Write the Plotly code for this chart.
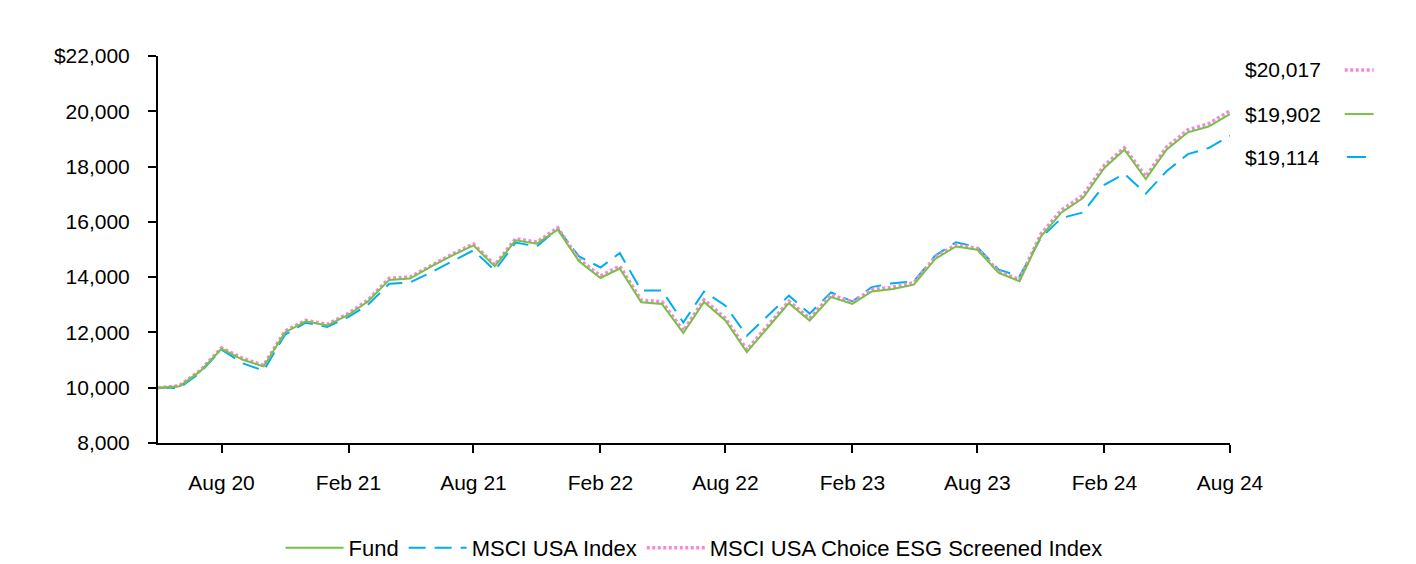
import pandas as pd
import plotly.graph_objects as go

# monthly growth of $10,000
months = pd.date_range('2020-05-01', '2024-08-01', freq='MS')

fund = [10000, 10050, 10590, 11410, 11010, 10770, 12000, 12400,
        12250, 12640, 13120, 13900, 13950, 14390, 14780, 15150, 14390, 15330, 15210, 15720,
        14570, 13970, 14310, 13090, 13030, 11980, 13100, 12430, 11290, 12160, 13060, 12430,
        13280, 13030, 13480, 13570, 13730, 14660, 15110, 14990, 14150, 13850, 15470, 16340,
        16860, 17950, 18610, 17550, 18610, 19240, 19450, 19902]

msci_usa = [10000, 9990, 10540, 11380, 10880, 10620, 11920, 12350,
            12200, 12560, 13000, 13760, 13810, 14170, 14570, 14970, 14240, 15250, 15110, 15750,
            14750, 14350, 14870, 13520, 13520, 12360, 13480, 12970, 11880, 12580, 13330, 12680,
            13450, 13120, 13640, 13780, 13850, 14780, 15260, 15090, 14270, 14030, 15420, 16140,
            16340, 17340, 17740, 17020, 17830, 18450, 18670, 19114]

msci_esg = [10000, 10070, 10620, 11440, 11060, 10810, 12050, 12440,
            12290, 12690, 13170, 13960, 14000, 14440, 14830, 15200, 14440, 15390, 15270, 15790,
            14640, 14050, 14400, 13170, 13110, 12060, 13180, 12510, 11370, 12240, 13130, 12510,
            13360, 13100, 13550, 13640, 13800, 14730, 15170, 15040, 14200, 13910, 15560, 16430,
            16960, 18050, 18680, 17640, 18700, 19330, 19550, 20017]

x_tick_dates = ['2020-08-01', '2021-02-01', '2021-08-01', '2022-02-01', '2022-08-01',
                '2023-02-01', '2023-08-01', '2024-02-01', '2024-08-01']
x_tick_text = ['Aug 20', 'Feb 21', 'Aug 21', 'Feb 22', 'Aug 22', 'Feb 23', 'Aug 23', 'Feb 24', 'Aug 24']
y_tick_vals = [8000, 10000, 12000, 14000, 16000, 18000, 20000, 22000]
y_tick_text = ['8,000', '10,000', '12,000', '14,000', '16,000', '18,000', '20,000', '$22,000']

GREEN = '#78C144'
BLUE = '#00AEEF'
PINK = '#F28AD6'
FONT = 'Arial, Liberation Sans, sans-serif'
DOTS = '3px,2.5px'

fig = go.Figure()

fig.add_trace(go.Scatter(x=months, y=msci_usa, name='MSCI USA Index', mode='lines',
                         line=dict(color=BLUE, width=2, dash='17px,9px'), legendrank=2))
fig.add_trace(go.Scatter(x=months, y=msci_esg, name='MSCI USA Choice ESG Screened Index', mode='lines',
                         line=dict(color=PINK, width=3.5, dash=DOTS), legendrank=3))
fig.add_trace(go.Scatter(x=months, y=fund, name='Fund', mode='lines',
                         line=dict(color=GREEN, width=2), legendrank=1))

# page body has an 8px margin, so the figure is offset by 8px
fig.update_layout(
    width=1400, height=556,
    margin=dict(l=150, r=178, t=48, b=121, autoexpand=False),
    plot_bgcolor='white', paper_bgcolor='white',
    font=dict(family=FONT, size=21, color='black'),
    showlegend=True,
    xaxis=dict(
        range=[months[0], months[-1]],
        tickvals=x_tick_dates, ticktext=x_tick_text,
        showgrid=False, zeroline=False,
        showline=True, linecolor='black', linewidth=2,
        ticks='outside', ticklen=8, tickwidth=2, tickcolor='black',
        ticklabelstandoff=12,
    ),
    yaxis=dict(
        range=[8000, 22000],
        tickvals=y_tick_vals, ticktext=y_tick_text,
        showgrid=False, zeroline=False,
        showline=True, linecolor='black', linewidth=2,
        ticks='outside', ticklen=8, tickwidth=2, tickcolor='black',
        ticklabelstandoff=14,
    ),
    legend=dict(
        orientation='h',
        x=0.5, xanchor='center',
        yref='container', y=0.029, yanchor='middle',
        font=dict(size=22),
        itemwidth=58,
        traceorder='normal',
    ),
)

# end value labels on the right
end_labels = [(msci_esg[-1], PINK, DOTS, 3.5, 0.964, 1.107, 1.134),
              (fund[-1], GREEN, 'solid', 2, 0.850, 1.107, 1.134),
              (msci_usa[-1], BLUE, 'solid', 2, 0.739, 1.109, 1.127)]
for val, col, dash, w, yp, x0, x1 in end_labels:
    fig.add_annotation(xref='paper', yref='paper', x=1.012, y=yp, xanchor='left', yanchor='middle',
                       text=f'${val:,}', showarrow=False, font=dict(size=21))
    fig.add_shape(type='line', xref='paper', yref='paper', x0=x0, x1=x1, y0=yp, y1=yp,
                  line=dict(color=col, width=w, dash=dash))

fig.write_html('out.html')
